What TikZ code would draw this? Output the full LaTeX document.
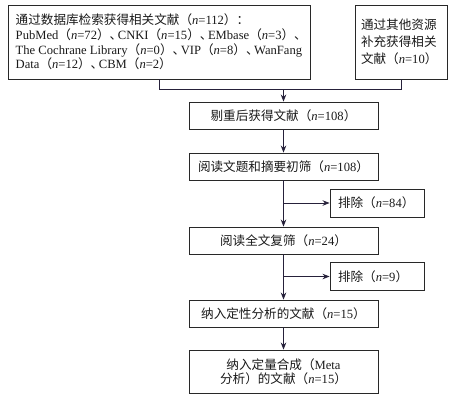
\documentclass[tikz,border=0pt]{standalone}
\usepackage{fontspec}
\setmainfont{Liberation Serif}
\newfontfamily\cjk{Noto Sans CJK SC}
\usetikzlibrary{arrows.meta}
\newcommand\zh[1]{{\cjk #1}}
\newcommand\nn{\textit{n}}
\newcommand\dun{\zh{、}\kern-0.35em}
\definecolor{linec}{RGB}{38,33,58}
\definecolor{boxc}{RGB}{40,40,40}
\begin{document}
\begin{tikzpicture}[x=1pt,y=-1pt,
  every node/.style={font=\fontsize{12.6}{14.7}\selectfont, text=black!90},
  box/.style={draw=boxc, line width=0.9pt, rectangle, minimum width=189pt, minimum height=27pt, inner sep=0pt, align=center},
  exbox/.style={draw=boxc, line width=0.9pt, rectangle, text width=78pt, inner xsep=8pt, inner ysep=0pt, minimum height=28pt, align=left},
  conn/.style={draw=linec, line width=0.9pt},
  arr/.style={conn, -{Stealth[length=7pt,width=5.5pt]}}]
\useasboundingbox (0,0) rectangle (458,400);
\node[draw=boxc, line width=0.9pt, rectangle, minimum width=302pt, minimum height=74pt, inner sep=0pt] (b1) at (159,42) {};
\node[anchor=west, align=left, inner sep=0pt] (t1) at ([xshift=8pt]b1.west)
  {\zh{通过数据库检索获得相关文献（}\nn=112\zh{）：}\\
   PubMed\zh{（}\nn=72\zh{）}\dun CNKI\zh{（}\nn=15\zh{）}\dun EMbase\zh{（}\nn=3\zh{）}\dun\\
   The Cochrane Library\zh{（}\nn=0\zh{）}\dun VIP\zh{（}\nn=8\zh{）}\dun WanFang\\
   Data\zh{（}\nn=12\zh{）}\dun CBM\zh{（}\nn=2\zh{）}};
\node[draw=boxc, line width=0.9pt, rectangle, text width=80pt, inner xsep=6pt, inner ysep=0pt, minimum height=74pt, align=left, font=\fontsize{12.6}{17}\selectfont] (b2) at (401,42)
  {\zh{通过其他资源}\\\zh{补充获得相关}\\\zh{文献（}\nn=10\zh{）}};
\coordinate (j) at (283.5,89);
\node[box] (b3) at (283.5,115.5) {\zh{剔重后获得文献（}\nn=108\zh{）}};
\node[box] (b4) at (283.5,166.5) {\zh{阅读文题和摘要初筛（}\nn=108\zh{）}};
\node[exbox] (e1) at (377,203) {\zh{排除（}\nn=84\zh{）}};
\node[box] (b5) at (283.5,240.5) {\zh{阅读全文复筛（}\nn=24\zh{）}};
\node[exbox] (e2) at (377,276.5) {\zh{排除（}\nn=9\zh{）}};
\node[box] (b6) at (283.5,313.5) {\zh{纳入定性分析的文献（}\nn=15\zh{）}};
\node[box, minimum height=43pt, font=\fontsize{12.6}{14}\selectfont] (b7) at (283.5,371.5) {\zh{纳入定量合成（}Meta\\\zh{分析）的文献（}\nn=15\zh{）}};
\draw[conn] (b1.south) |- (j);
\draw[conn] (b2.south) |- (j);
\draw[arr] (j) -- (b3);
\draw[arr] (b3) -- (b4);
\draw[arr] (b4) -- (b5);
\draw[arr] (b4.south |- e1.west) -- (e1.west);
\draw[arr] (b5) -- (b6);
\draw[arr] (b5.south |- e2.west) -- (e2.west);
\draw[arr] (b6) -- (b7);
\end{tikzpicture}
\end{document}
